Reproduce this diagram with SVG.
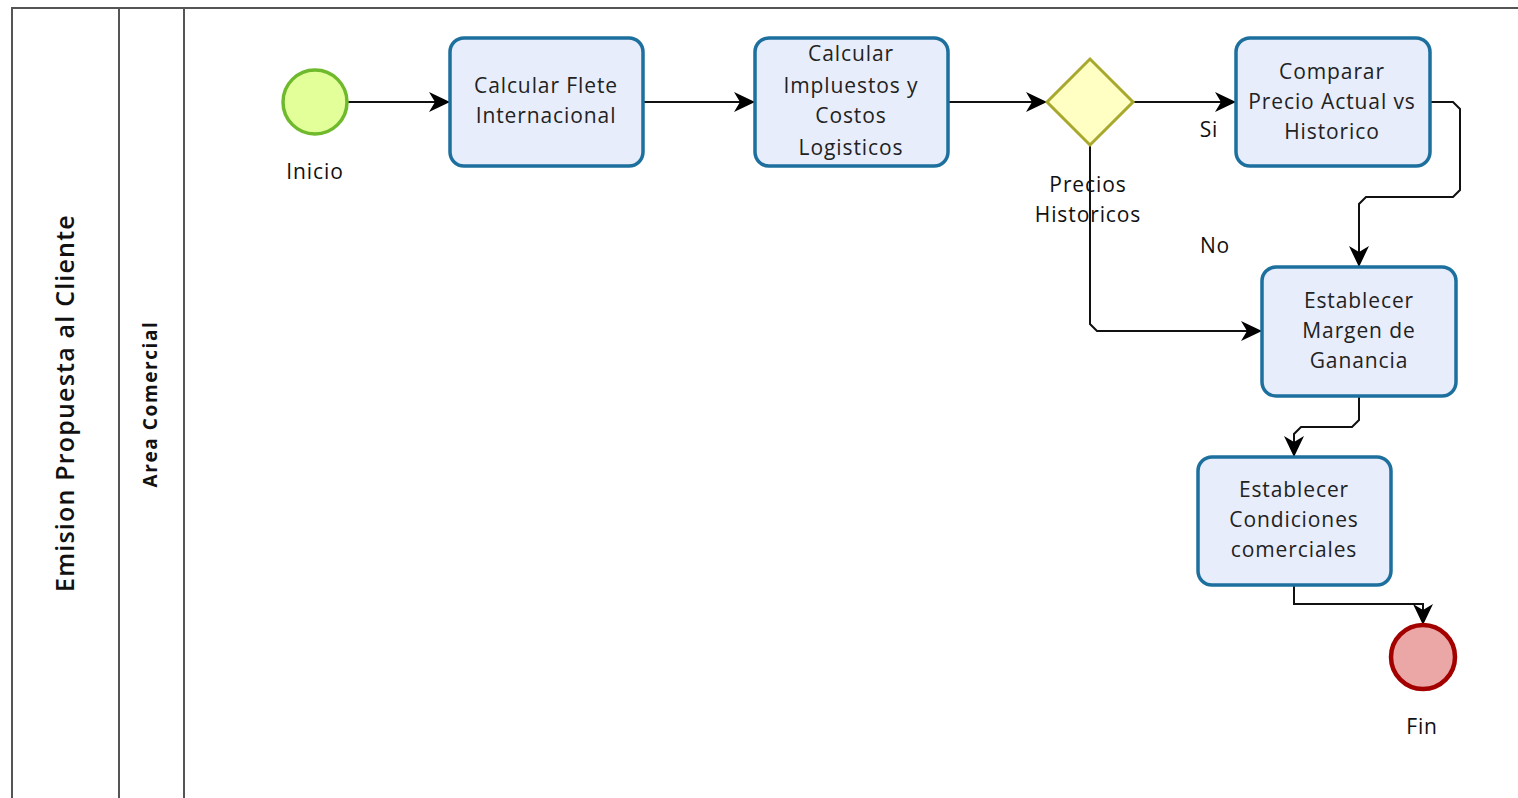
<svg xmlns="http://www.w3.org/2000/svg" width="1518" height="798" viewBox="0 0 1518 798">
  <style>
    .lane { fill: none; stroke: #555; stroke-width: 2; }
    .task { fill: #e8edfc; stroke: #1d6f9e; stroke-width: 3.5; }
    .txt { font-family: "Open Sans", "DejaVu Sans", sans-serif; font-size: 21px; letter-spacing: 0.9px; fill: #222; text-anchor: middle; }
    .lbl { font-family: "Open Sans", "DejaVu Sans", sans-serif; font-size: 21px; letter-spacing: 0.9px; fill: #111; text-anchor: middle; }
    .flow { fill: none; stroke: #111; stroke-width: 2; marker-end: url(#arrow); }
  </style>
  <defs>
    <marker id="arrow" markerUnits="userSpaceOnUse" markerWidth="22" markerHeight="22" viewBox="0 0 22 22" refX="21" refY="11" orient="auto">
      <path d="M0,1 L21,11 L0,21 L6,11 Z" fill="#000"/>
    </marker>
    <clipPath id="clip-t2"><rect x="757" y="40" width="189" height="122" rx="12"/></clipPath>
  </defs>
  <rect width="1518" height="798" fill="#fff"/>

  <!-- pool and lane frame -->
  <g id="pool">
    <path class="lane" d="M12,798 V8 H1518"/>
    <line class="lane" x1="119" y1="8" x2="119" y2="798"/>
    <line class="lane" x1="184" y1="8" x2="184" y2="798" stroke="#777"/>
    <text transform="translate(74,403) rotate(-90)" font-family="'Open Sans', 'DejaVu Sans', sans-serif" font-size="25" font-weight="600" letter-spacing="1.2" fill="#111" text-anchor="middle">Emision Propuesta al Cliente</text>
    <text transform="translate(157,404) rotate(-90)" font-family="'Open Sans', 'DejaVu Sans', sans-serif" font-size="19" font-weight="bold" letter-spacing="1.6" fill="#111" text-anchor="middle">Area Comercial</text>
  </g>

  <!-- connectors -->
  <g id="connectors">
    <path class="flow" d="M348,102 H450"/>
    <path class="flow" d="M643,102 H755"/>
    <path class="flow" d="M948,102 H1047"/>
    <path class="flow" d="M1133,102 H1236"/>
    <path class="flow" d="M1430,102 H1453 L1460,109 V190 L1453,197 H1366 L1359,204 V267"/>
    <path class="flow" d="M1090,145 V324 L1097,331 H1262"/>
    <path class="flow" d="M1359,396 V420 L1352,427 H1301 L1294,434 V457"/>
    <path class="flow" d="M1294,585 V604 H1423 V625"/>
    <text class="lbl" x="1209" y="137">Si</text>
    <text class="lbl" x="1215" y="253">No</text>
  </g>

  <g id="start">
    <circle cx="315" cy="102" r="32" fill="#e2ff99" stroke="#6fba2c" stroke-width="3.5"/>
    <text class="lbl" x="315" y="179">Inicio</text>
  </g>

  <g id="task-flete">
    <rect class="task" x="450" y="38" width="193" height="128" rx="14"/>
    <text class="txt" x="546" y="93">Calcular Flete</text>
    <text class="txt" x="546" y="123">Internacional</text>
  </g>

  <g id="task-impuestos">
    <rect class="task" x="755" y="38" width="193" height="128" rx="14"/>
    <g clip-path="url(#clip-t2)">
      <text class="txt" x="851" y="61">Calcular</text>
      <text class="txt" x="851" y="93">Impluestos y</text>
      <text class="txt" x="851" y="123">Costos</text>
      <text class="txt" x="851" y="155">Logisticos</text>
    </g>
  </g>

  <g id="gateway">
    <polygon points="1047,102 1090,59 1133,102 1090,145" fill="#ffffc4" stroke="#a8a82c" stroke-width="3"/>
    <text class="lbl" x="1088" y="192">Precios</text>
    <text class="lbl" x="1088" y="222">Historicos</text>
  </g>

  <g id="task-comparar">
    <rect class="task" x="1236" y="38" width="194" height="128" rx="14"/>
    <text class="txt" x="1332" y="79">Comparar</text>
    <text class="txt" x="1332" y="109">Precio Actual vs</text>
    <text class="txt" x="1332" y="139">Historico</text>
  </g>

  <g id="task-margen">
    <rect class="task" x="1262" y="267" width="194" height="129" rx="14"/>
    <text class="txt" x="1359" y="308">Establecer</text>
    <text class="txt" x="1359" y="338">Margen de</text>
    <text class="txt" x="1359" y="368">Ganancia</text>
  </g>

  <g id="task-condiciones">
    <rect class="task" x="1198" y="457" width="193" height="128" rx="14"/>
    <text class="txt" x="1294" y="497">Establecer</text>
    <text class="txt" x="1294" y="527">Condiciones</text>
    <text class="txt" x="1294" y="557">comerciales</text>
  </g>

  <g id="end">
    <circle cx="1423" cy="657" r="32" fill="#eba6a6" stroke="#a30000" stroke-width="4.5"/>
    <text class="lbl" x="1422" y="734">Fin</text>
  </g>
</svg>
